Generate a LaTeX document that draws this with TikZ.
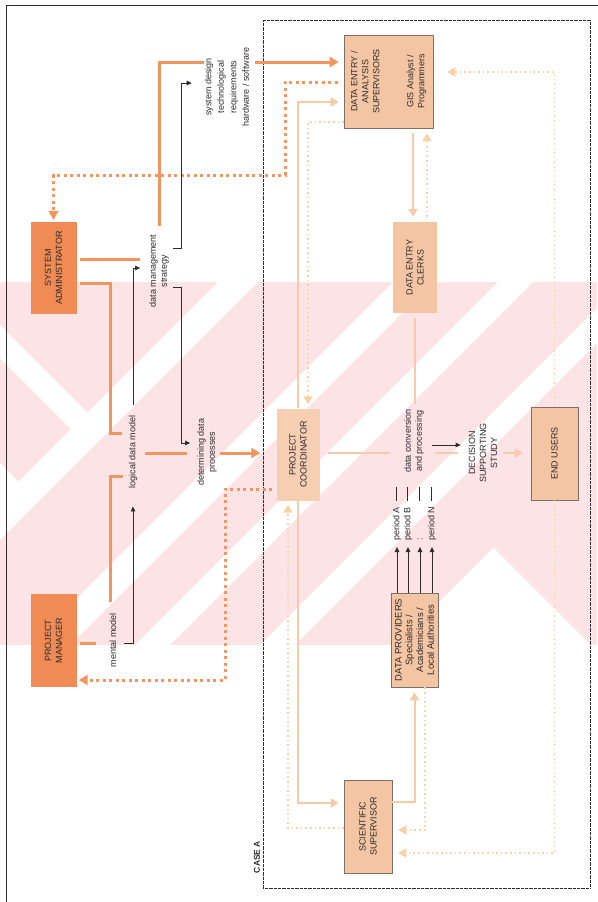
\documentclass[tikz,border=0pt]{standalone}
\usepackage{fontspec}
\setmainfont{Liberation Sans}
\usetikzlibrary{arrows.meta}

\definecolor{boxdark}{RGB}{241,139,86}
\definecolor{boxlight}{RGB}{244,197,163}
\definecolor{boxpale}{RGB}{246,206,178}
\definecolor{linedark}{RGB}{241,150,96}
\definecolor{linelight}{RGB}{247,203,170}
\definecolor{dotlight}{RGB}{247,210,165}
\definecolor{inkgray}{RGB}{48,42,44}
\definecolor{edgegray}{RGB}{125,112,104}
\definecolor{wmpink}{RGB}{251,227,230}

\begin{document}
\begin{tikzpicture}
  [x=1pt,y=-1pt,font=\fontsize{9}{11}\selectfont,
   every node/.style={rotate=90,align=center,inner sep=1pt,text=inkgray},
   box/.style={minimum width=93pt,minimum height=46pt},
   hibox/.style={box,fill=boxdark},
   lobox/.style={box,fill=boxlight},
   edged/.style={draw=edgegray,line width=.6pt},
   thk/.style={draw=linedark,line width=3pt},
   thkdot/.style={draw=linedark,line width=3pt,dash pattern=on 3pt off 3.5pt},
   pch/.style={draw=linelight,line width=2pt},
   pchdot/.style={draw=dotlight,line width=1.6pt,dash pattern=on 1.6pt off 3pt},
   dk/.style={draw=inkgray,line width=.8pt,-{Triangle[length=5pt,width=4.5pt]}},
   bigtip/.style={-{Triangle[length=9pt,width=10pt]}},
   tip/.style={-{Triangle[length=8pt,width=9pt]}}]
  \useasboundingbox (0,0) rectangle (597,902);

  % watermark band
  \begin{scope}
    \clip (0,282) rectangle (597,645);
    \fill[wmpink] (0,282) rectangle (597,645);
    \foreach \a/\b in {500/540,675/715,780/815,905/940}
      \fill[white] (\a-282,282) -- (\b-282,282) -- (\b-645,645) -- (\a-645,645) -- cycle;
    \fill[white] (0,325) -- (97.5,422.5) -- (81,439) -- (0,358) -- cycle;
    \fill[white] (0,463) -- (27,490) -- (0,517) -- cycle;
    \fill[white] (493.5,547.5) -- (396,645) -- (591,645) -- cycle;
  \end{scope}

  % frames
  \draw[inkgray,line width=.9pt] (6,5) rectangle (603,908);
  \draw[inkgray,line width=.5pt,dash pattern=on .8pt off .5pt] (263,20) rectangle (590,888);
  \node (casea) at (257,857) [font=\fontsize{8.5}{10}\selectfont\bfseries] {CASE A};

  % boxes
  \node (sa) at (53.5,268) [hibox,minimum width=92pt] {SYSTEM\\ADMINISTRATOR};
  \node (pm) at (53.5,640.5) [hibox] {PROJECT\\MANAGER};
  \node (pc) at (298,454.5) [box,fill=boxpale,minimum width=92pt,minimum height=43pt] {PROJECT\\COORDINATOR};
  \node (des) at (388.5,81.5) [lobox,edged,minimum height=89pt] {DATA ENTRY /\\ANALYSIS\\SUPERVISORS\\[23pt]GIS Analyst /\\Programmers};
  \node (dec) at (415,267.5) [box,fill=boxlight,minimum width=91pt,minimum height=44pt] {DATA ENTRY\\CLERKS};
  \node (eu) at (554.5,453.5) [lobox,edged,minimum height=47pt] {END USERS};
  \node (ss) at (368,826.5) [lobox,edged,minimum height=48pt] {SCIENTIFIC\\SUPERVISOR};
  \node (dp) at (414.5,640) [lobox,edged,minimum width=94pt,minimum height=47pt,inner sep=0pt,
    font=\fontsize{9.5}{10.7}\selectfont] {DATA PROVIDERS\\Specialists /\\Academicians /\\Local Authorities};

  % labels
  \node (mm) at (113,640) {mental model};
  \node (ldm) at (133,452) {logical data model};
  \node (dms) at (159,271) {data management\\strategy};
  \node (ddp) at (207,452) {determining data\\processes};
  \node (sysd) at (227,87) [font=\fontsize{9}{12.5}\selectfont] {system design\\technological\\requirements\\hardware / software};
  \node (dcp) at (414,441) {data conversion\\and processing};
  \node (dss) at (483,453) {DECISION\\SUPPORTING\\STUDY};
  \node (pa) at (397,541) [anchor=west,inner sep=0pt] {\makebox[40pt][l]{period A}\rule[2.5pt]{14pt}{.5pt}};
  \node (pb) at (408,541) [anchor=west,inner sep=0pt] {\makebox[40pt][l]{period B}\rule[2.5pt]{14pt}{.5pt}};
  \node (pd) at (420,541) [anchor=west,inner sep=0pt] {\makebox[40pt][l]{:}\rule[2.5pt]{14pt}{.5pt}};
  \node (pn) at (432,541) [anchor=west,inner sep=0pt] {\makebox[40pt][l]{period N}\rule[2.5pt]{14pt}{.5pt}};

  % thick orange flow
  \draw[thk,shorten <=8pt] (dms.east) |- (sysd.north |- 0,62);
  \draw[thk,bigtip,shorten <=5pt,shorten >=5pt] (sysd.south |- 0,62) -- (des.north |- 0,62);
  \draw[thk,shorten <=3pt,shorten >=8pt] (sa.south |- 0,259) -- (dms.north |- 0,259);
  \draw[thk,shorten <=3pt,shorten >=6pt] (sa.south |- 0,283) -| (110,433) -- (ldm.north |- 0,433);
  \draw[thk,shorten <=3pt,shorten >=12pt] (pm.south |- 0,643) -- (mm.north |- 0,643);
  \draw[thk,shorten <=10pt,shorten >=5pt] (mm.east -| 110,0) |- (ldm.north |- 0,476);
  \draw[thk,shorten <=7pt,shorten >=9pt] (ldm.south |- 0,453) -- (ddp.north |- 0,453);
  \draw[thk,bigtip,shorten <=2pt,shorten >=16pt] (ddp.south |- 0,453) -- (pc.north |- 0,453);

  % thick dotted feedback
  \draw[thkdot,bigtip,shorten <=6pt,shorten >=2pt] (des.north |- 0,82) -| (285,175) -| (sa.east);
  \draw[thkdot,bigtip,shorten <=4pt,shorten >=2pt] (pc.north |- 0,489) -| (225,680) -- (pm.south |- 0,680);

  % light flow
  \draw[pch,tip,shorten >=5pt] (pc.east) |- (des.north |- 0,102);
  \draw[pch,tip,shorten >=5pt] (pc.west) |- (ss.north |- 0,803);
  \draw[pch,line width=1.2pt,shorten <=8pt,shorten >=13pt] (pc.south |- 0,453) -- (dcp.north |- 0,453);
  \draw[pch,line width=1.2pt,shorten <=5pt,shorten >=4pt] (dec.west) -- (dec.west |- dcp.east);
  \draw[pch,line width=1.2pt,shorten <=10pt,shorten >=10pt] (dcp.south |- 0,453) -- (dss.north |- 0,453);
  \draw[pch,tip,shorten <=5pt,shorten >=8pt] (dss.south |- 0,453) -- (eu.north |- 0,453);
  \draw[pch,tip,shorten >=5pt] (ss.south |- 0,802) -| (dp.west);
  \draw[pch,tip,shorten <=5pt,shorten >=5pt] (des.west -| 413,0) -- (dec.east -| 413,0);

  % light dotted feedback
  \draw[pchdot,tip,shorten <=5pt,shorten >=5pt] (dec.east -| 427,0) -- (des.west -| 427,0);
  \draw[pchdot,tip,shorten >=4pt] (des.north |- 0,122) -| (pc.east -| 308,0);
  \draw[pchdot,tip,shorten >=4pt] (ss.north |- 0,828) -| (pc.west -| 288,0);
  \draw[pchdot,tip,shorten >=6pt] (dp.west -| 425,0) |- (ss.south |- 0,830);
  \draw[pchdot,tip,shorten >=6pt] (eu.west) |- (ss.south |- 0,853);
  \draw[pchdot,tip,shorten >=14pt] (eu.east) |- (des.south |- 0,72);

  % dark arrows
  \draw[dk,shorten <=6pt,shorten >=17pt] (mm.south |- 0,643) -| (ldm.west);
  \draw[dk,shorten <=10pt,shorten >=8pt] (ldm.east) |- (dms.north |- 0,268);
  \draw[dk,shorten <=3pt,shorten >=12pt] (dms.south |- 0,248) -- (181,248) |- (sysd.north |- 0,83);
  \draw[dk,shorten <=3pt,shorten >=6pt] (dms.south |- 0,287) -- (181,287) |- (ddp.north |- 0,443);
  \draw[dk,shorten <=7pt,shorten >=7pt] (dcp.south |- 0,445) -- (dss.north |- 0,445);
  \foreach \p in {pa,pb,pd,pn}
    \draw[dk,shorten >=6pt] (dp.east -| \p) -- (\p.west);

\end{tikzpicture}
\end{document}
